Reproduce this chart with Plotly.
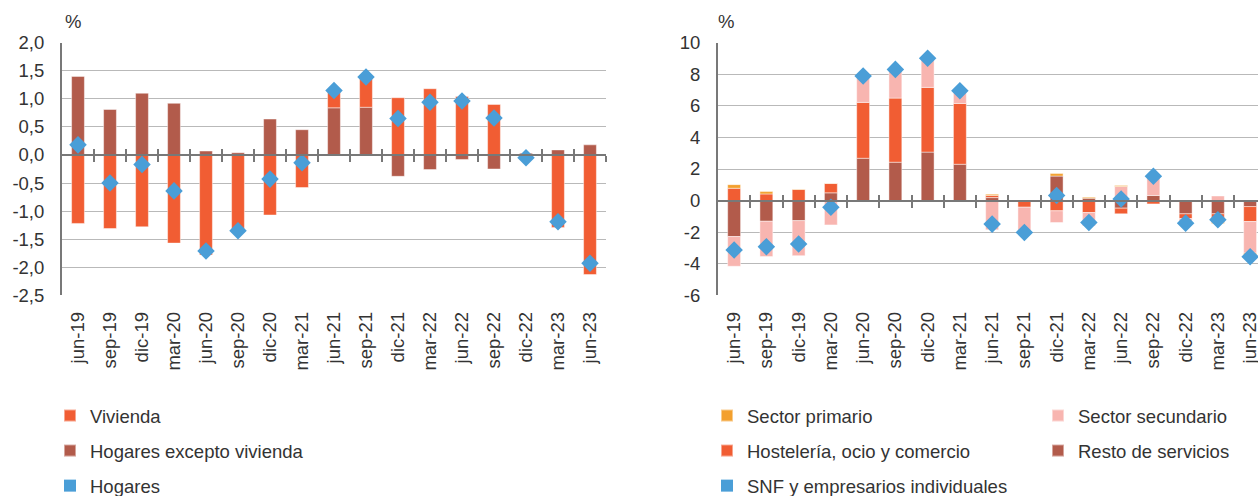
import plotly.graph_objects as go

W, H = 1258, 496

periodos = ["jun-19", "sep-19", "dic-19", "mar-20", "jun-20", "sep-20", "dic-20",
            "mar-21", "jun-21", "sep-21", "dic-21", "mar-22", "jun-22", "sep-22",
            "dic-22", "mar-23", "jun-23"]

# Hogares: contribuciones (pp)
hogares_excepto_vivienda = [1.40, 0.81, 1.10, 0.92, 0.07, 0.04, 0.64, 0.45, 0.84, 0.85,
                            -0.38, -0.26, -0.08, -0.25, 0.03, 0.09, 0.18]
vivienda = [-1.22, -1.31, -1.28, -1.57, -1.78, -1.38, -1.07, -0.58, 0.31, 0.54,
            1.02, 1.18, 1.04, 0.90, -0.08, -1.29, -2.13]
hogares = [0.18, -0.50, -0.17, -0.64, -1.71, -1.35, -0.43, -0.14, 1.15, 1.39,
           0.65, 0.94, 0.96, 0.66, -0.05, -1.19, -1.93]

# Sociedades no financieras: contribuciones por sector (pp)
resto_servicios = [-2.28, -1.31, -1.27, 0.49, 2.68, 2.43, 3.07, 2.30, 0.19, -0.06,
                   1.55, 0.15, -0.48, 0.32, -0.84, -0.84, -0.38]
hosteleria_ocio_comercio = [0.78, 0.42, 0.70, 0.59, 3.54, 4.06, 4.10, 3.85, 0.13, -0.36,
                            -0.65, -0.76, -0.36, -0.21, -0.30, -0.55, -0.95]
sector_secundario = [-1.88, -2.24, -2.22, -1.54, 1.62, 1.80, 1.82, 0.78, -1.85, -1.60,
                     -0.74, -0.84, 0.89, 1.30, -0.25, 0.29, -2.00]
sector_primario = [0.23, 0.15, 0.03, 0.02, 0.05, 0.02, 0.02, 0.03, 0.08, 0.04,
                   0.16, 0.06, 0.06, 0.02, -0.04, -0.06, -0.12]
snf_empresarios = [-3.13, -2.92, -2.75, -0.42, 7.89, 8.31, 9.01, 6.96, -1.49, -2.02,
                   0.32, -1.39, 0.10, 1.54, -1.43, -1.22, -3.56]

ticks_izq = [2.0, 1.5, 1.0, 0.5, 0.0, -0.5, -1.0, -1.5, -2.0, -2.5]
ticks_der = [10, 8, 6, 4, 2, 0, -2, -4, -6]

NARANJA = "#F15D33"
MARRON = "#B25B4B"
AZUL = "#4A9ED7"
AMARILLO = "#F3A02E"
ROSA = "#F8B5B0"
GRIS_EJE = "#787878"
GRIS_REJILLA = "#b9b9b9"
TEXTO = "#333333"
FUENTE = "Liberation Sans, Arial, sans-serif"
TAM = 18.5


def fx(px):
    return px / W


def fy(py):
    return 1 - py / H


n = len(periodos)
xs = list(range(n))
fronteras = [i + 0.5 for i in range(n)]
y_dom = [fy(295.3), fy(42.7)]
rango_izq = [-0.5, n - 0.5]
rango_der = [-0.5, -0.5 + (W - 718) / 32.25]
ry_izq = [-2.5, 2.0]
ry_der = [-6, 10]


def pos_cero(ry):
    return y_dom[0] + (0 - ry[0]) / (ry[1] - ry[0]) * (y_dom[1] - y_dom[0])


borde = dict(color="rgba(255,255,255,0.45)", width=1)
fig = go.Figure()


def barra(y, nombre, color, xa, ya, leyenda, rango):
    fig.add_trace(go.Bar(x=xs, y=y, name=nombre, marker=dict(color=color, line=borde),
                         width=0.4, xaxis=xa, yaxis=ya, legend=leyenda,
                         legendgroup=nombre, legendrank=rango, hoverinfo="skip"))


def rombos(y, nombre, xa, ya):
    # total del grupo como rombos
    fig.add_trace(go.Scatter(x=xs, y=y, mode="markers", name=nombre,
                             marker=dict(symbol="diamond", size=13.5, color=AZUL),
                             xaxis=xa, yaxis=ya, showlegend=False, hoverinfo="skip"))


def clave_total(y, nombre, xa, ya, leyenda):
    # entrada cuadrada de la leyenda para el total: marcadores minúsculos en el
    # gráfico y símbolo de tamaño constante en la leyenda
    fig.add_trace(go.Scatter(x=xs, y=y, mode="markers", name=nombre,
                             marker=dict(symbol="square", size=0.01, color=AZUL,
                                         line=dict(width=0)),
                             xaxis=xa, yaxis=ya, legend=leyenda, legendgroup=nombre,
                             legendrank=3, hoverinfo="skip"))


# Panel izquierdo: hogares
barra(hogares_excepto_vivienda, "Hogares excepto vivienda", MARRON, "x", "y", "legend", 2)
barra(vivienda, "Vivienda", NARANJA, "x", "y", "legend", 1)
clave_total(hogares, "Hogares", "x4", "y", "legend")
rombos(hogares, "Hogares", "x3", "y")

# Panel derecho: sociedades no financieras
barra(resto_servicios, "Resto de servicios", MARRON, "x2", "y2", "legend3", 2)
barra(hosteleria_ocio_comercio, "Hostelería, ocio y comercio", NARANJA, "x2", "y2", "legend2", 2)
barra(sector_secundario, "Sector secundario", ROSA, "x2", "y2", "legend3", 1)
barra(sector_primario, "Sector primario", AMARILLO, "x2", "y2", "legend2", 1)
clave_total(snf_empresarios, "SNF y empresarios individuales", "x6", "y2", "legend2")
rombos(snf_empresarios, "SNF y empresarios individuales", "x5", "y2")


def eje_x(dom, rango, ancla):
    return dict(domain=dom, range=rango, anchor=ancla, type="linear",
                tickmode="array", tickvals=xs, ticktext=periodos, tickangle=-90,
                ticks="", showgrid=False, zeroline=False, showline=False,
                ticklabelstandoff=12, ticklabeloverflow="allow",
                tickfont=dict(family=FUENTE, size=TAM, color=TEXTO))


def eje_y(rango, ticks, textos, ancla):
    return dict(domain=y_dom, range=rango, anchor=ancla, tickmode="array",
                tickvals=ticks, ticktext=textos, ticks="", showgrid=True,
                gridcolor=GRIS_REJILLA, gridwidth=1, zeroline=False,
                showline=True, linecolor=GRIS_EJE, linewidth=2,
                ticklabelstandoff=12,
                tickfont=dict(family=FUENTE, size=TAM, color=TEXTO))


def eje_cero(base, rango, pos, lado_ticks, linea):
    return dict(overlaying=base, anchor="free", position=pos, range=rango,
                type="linear", tickmode="array", tickvals=fronteras, ticks=lado_ticks,
                ticklen=6, tickwidth=2, tickcolor=GRIS_EJE, showline=linea,
                linecolor=GRIS_EJE, linewidth=2, showticklabels=False,
                showgrid=False, zeroline=False, layer="above traces")


def fmt(v):
    return f"{v:.1f}".replace(".", ",")


def leyenda(px_izq):
    return dict(x=fx(px_izq), xanchor="left", y=fy(397), yanchor="top",
                traceorder="grouped", tracegroupgap=8, itemsizing="constant",
                bgcolor="rgba(0,0,0,0)",
                font=dict(family=FUENTE, size=TAM, color=TEXTO))


fig.update_layout(
    width=W, height=H,
    margin=dict(l=0, r=0, t=0, b=0, autoexpand=False),
    paper_bgcolor="white", plot_bgcolor="white",
    barmode="relative",
    font=dict(family=FUENTE, size=TAM, color=TEXTO),
    xaxis=eje_x([fx(62), fx(606)], rango_izq, "y"),
    yaxis=eje_y(ry_izq, ticks_izq, [fmt(v) for v in ticks_izq], "x"),
    xaxis2=eje_x([fx(718), 1.0], rango_der, "y2"),
    yaxis2=eje_y(ry_der, ticks_der, [str(v) for v in ticks_der], "x2"),
    xaxis3=eje_cero("x", rango_izq, pos_cero(ry_izq), "outside", True),
    xaxis4=eje_cero("x", rango_izq, pos_cero(ry_izq), "inside", False),
    xaxis5=eje_cero("x2", rango_der, pos_cero(ry_der), "outside", True),
    xaxis6=eje_cero("x2", rango_der, pos_cero(ry_der), "inside", False),
    legend=leyenda(50),
    legend2=leyenda(707),
    legend3=leyenda(1038),
    annotations=[
        dict(text="%", x=fx(63), y=fy(22), xref="paper", yref="paper",
             xanchor="left", yanchor="middle", showarrow=False,
             font=dict(family=FUENTE, size=TAM, color=TEXTO)),
        dict(text="%", x=fx(716), y=fy(22), xref="paper", yref="paper",
             xanchor="left", yanchor="middle", showarrow=False,
             font=dict(family=FUENTE, size=TAM, color=TEXTO)),
    ],
)

fig.write_html("out.html")
